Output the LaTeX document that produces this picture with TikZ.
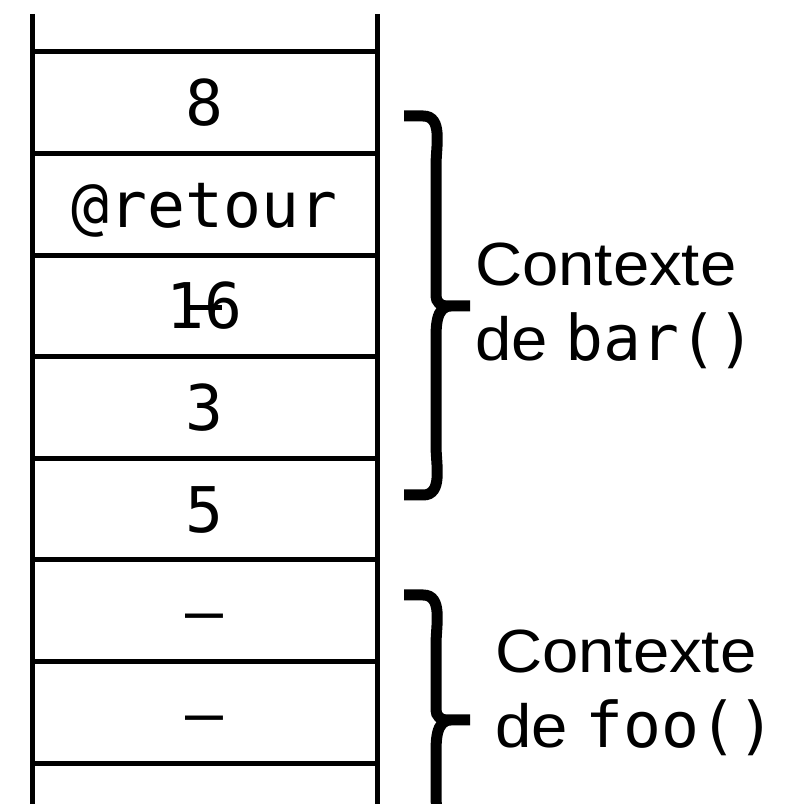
\documentclass[tikz,border=0pt]{standalone}
\usepackage{fontspec}
\setmainfont{Liberation Sans}[FakeStretch=1.07]
\setmonofont{DejaVu Sans Mono}
\usetikzlibrary{positioning}
\newcommand\fname[1]{{\ttfamily\fontsize{63}{75}\selectfont #1}}
\tikzset{
  x=1pt, y=1pt,
  cell/.style={inner sep=0, text height=46pt, text depth=0pt,
    font=\ttfamily\fontsize{63}{63}\selectfont},
  stack/.style={line width=5pt},
  context/.style={line width=11pt},
  ctxlabel/.style={inner sep=0, anchor=west, align=left,
    font=\fontsize{61}{75}\selectfont}
}
% square-ish curly brace from #1top to #1bot, point at #1tip
\newcommand\ctxbrace[1]{%
  \draw[context] ([xshift=-32pt]#1top) -- ([xshift=-13pt]#1top)
      to[out=0,in=90] ([yshift=-50pt]#1top) -- ([yshift=10pt]#1tip)
      to[out=-90,in=180] ([xshift=10pt]#1tip) -- ([xshift=34pt]#1tip)
    ([xshift=-32pt]#1bot) -- ([xshift=-13pt]#1bot)
      to[out=0,in=-90] ([yshift=50pt]#1bot) -- ([yshift=-37pt]#1tip)
      to[out=90,in=180] ([xshift=15pt]#1tip) -- ([xshift=34pt]#1tip);
}

\begin{document}
\begin{tikzpicture}
  \clip (0,0) rectangle (793,804);

  % the stack, top slot first
  \foreach \val [count=\i] in {8,@retour,16,3,5,–,–}
    \node[cell] (cell\i) at (204.5,{752-101.6*(\i-0.5)}) {\val};
  \foreach \k in {0,...,7}
    \draw[stack] (32,{752-101.6*\k}) -- (377,{752-101.6*\k});
  \draw[stack] (32,790) -- (32,-5);
  \draw[stack] (377,790) -- (377,-5);
  \draw[stack] ([xshift=-17.5pt,yshift=-1.5pt]cell3.center) -- ++(35,0);

  % frames
  \coordinate (bartop) at (436,688);
  \coordinate (bartip) at (436,498);
  \coordinate (barbot) at (436,309);
  \coordinate (footop) at (436,209);
  \coordinate (footip) at (436,84);
  \coordinate (foobot) at (436,-41);
  \ctxbrace{bar}
  \ctxbrace{foo}

  \node[ctxlabel] (barctx) at (475,498) {Contexte\\de \fname{bar()}};
  \node[ctxlabel] (fooctx) at (495,111) {Contexte\\de \fname{foo()}};
\end{tikzpicture}
\end{document}
